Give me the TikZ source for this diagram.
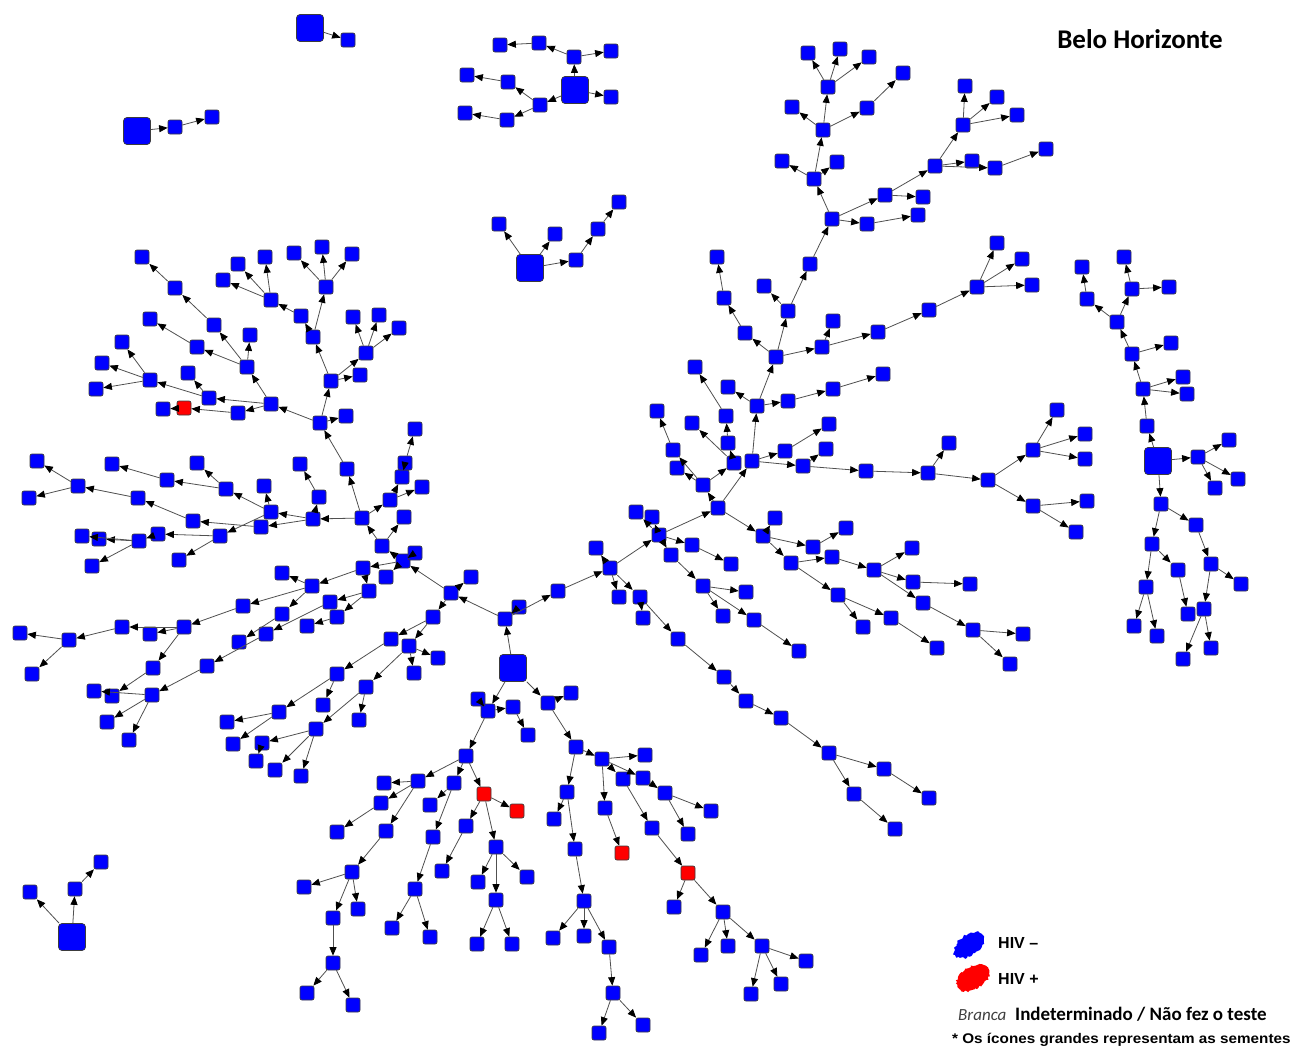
\documentclass[tikz,border=0pt]{standalone}
\usepackage{fontspec}
\usetikzlibrary{arrows.meta,decorations.pathmorphing}
\newfontfamily\calfont{Carlito}
\newfontfamily\arfont{Liberation Sans}
\definecolor{nodeblue}{RGB}{0,0,255}
\definecolor{nodered}{RGB}{255,0,0}
\definecolor{nodeedge}{RGB}{60,60,60}
\definecolor{linkgray}{RGB}{80,80,80}
\tikzset{
  sn/.style={draw=nodeedge, fill=nodeblue, rounded corners=2pt, minimum size=14pt, inner sep=0pt, line width=0.7pt},
  rn/.style={sn, fill=nodered},
  seed/.style={sn, minimum size=27pt, rounded corners=3.5pt},
  ed/.style={draw=linkgray, line width=0.8pt, -{Triangle[length=8.5pt,width=7pt,color=black]}},
}
\begin{document}
\begin{tikzpicture}[x=1pt,y=-1pt]
\useasboundingbox (0,0) rectangle (1294,1047);
\fill[white] (0,0) rectangle (1294,1047);

% ---------- small separate networks ----------
\node[seed] (c1s) at (310,28) {};
\node[sn] (c1a) at (348,40) {};
\node[seed] (c2s) at (137,131) {};
\node[sn] (c2a) at (175,127) {};
\node[sn] (c2b) at (212,117) {};
\node[seed] (c3s) at (575,90) {};
\node[sn] (c3a) at (574,57) {};
\node[sn] (c3b) at (611,97) {};
\node[sn] (c3c) at (540,105) {};
\node[sn] (c3d) at (539,43) {};
\node[sn] (c3e) at (500,45) {};
\node[sn] (c3f) at (611,51) {};
\node[sn] (c3g) at (508,82) {};
\node[sn] (c3h) at (467,75) {};
\node[sn] (c3i) at (507,120) {};
\node[sn] (c3j) at (465,113) {};
\node[seed] (c4s) at (530,268) {};
\node[sn] (c4a) at (499,224) {};
\node[sn] (c4b) at (555,234) {};
\node[sn] (c4c) at (576,260) {};
\node[sn] (c4d) at (598,229) {};
\node[sn] (c4e) at (619,202) {};
\node[seed] (c5s) at (72,937) {};
\node[sn] (c5a) at (30,892) {};
\node[sn] (c5b) at (75,889) {};
\node[sn] (c5c) at (101,862) {};

% ---------- right network ----------
\node[seed] (r0) at (1158,461) {};
\node[sn] (r1) at (1147,426) {};
\node[sn] (r2) at (1143,389) {};
\node[sn] (r3) at (1183,377) {};
\node[sn] (r4) at (1187,394) {};
\node[sn] (r5) at (1132,354) {};
\node[sn] (r6) at (1171,343) {};
\node[sn] (r7) at (1117,322) {};
\node[sn] (r8) at (1087,299) {};
\node[sn] (r9) at (1082,267) {};
\node[sn] (r10) at (1132,289) {};
\node[sn] (r11) at (1124,257) {};
\node[sn] (r12) at (1169,287) {};
\node[sn] (r13) at (1198,457) {};
\node[sn] (r14) at (1229,440) {};
\node[sn] (r15) at (1238,479) {};
\node[sn] (r16) at (1215,488) {};
\node[sn] (r17) at (1161,504) {};
\node[sn] (r18) at (1152,544) {};
\node[sn] (r19) at (1196,525) {};
\node[sn] (r20) at (1146,587) {};
\node[sn] (r21) at (1178,570) {};
\node[sn] (r22) at (1134,626) {};
\node[sn] (r23) at (1157,636) {};
\node[sn] (r24) at (1188,614) {};
\node[sn] (r25) at (1211,564) {};
\node[sn] (r26) at (1241,584) {};
\node[sn] (r27) at (1204,609) {};
\node[sn] (r28) at (1183,659) {};
\node[sn] (r29) at (1211,648) {};

% ---------- main network: trunk and right branches ----------
\node[sn] (m1) at (505,619) {};
\node[sn] (m2) at (519,607) {};
\node[sn] (m3) at (558,591) {};
\node[sn] (m4) at (610,568) {};
\node[sn] (m5) at (596,548) {};
\node[sn] (m6) at (619,597) {};
\node[sn] (m7) at (640,597) {};
\node[sn] (m8) at (643,618) {};
\node[sn] (m9) at (678,639) {};
\node[sn] (m10) at (724,677) {};
\node[sn] (m11) at (746,701) {};
\node[sn] (m12) at (781,718) {};
\node[sn] (m13) at (829,753) {};
\node[sn] (m14) at (884,769) {};
\node[sn] (m15) at (929,798) {};
\node[sn] (m16) at (854,794) {};
\node[sn] (m17) at (895,829) {};
\node[sn] (m18) at (659,535) {};
\node[sn] (m19) at (652,517) {};
\node[sn] (m20) at (636,512) {};
\node[sn] (m21) at (671,555) {};
\node[sn] (m22) at (692,545) {};
\node[sn] (m23) at (731,564) {};
\node[sn] (m24) at (703,586) {};
\node[sn] (m25) at (746,592) {};
\node[sn] (m26) at (723,616) {};
\node[sn] (m27) at (754,620) {};
\node[sn] (m28) at (799,651) {};
\node[sn] (m29) at (718,508) {};
\node[sn] (m30) at (763,536) {};
\node[sn] (m31) at (775,518) {};
\node[sn] (m32) at (813,547) {};
\node[sn] (m33) at (846,528) {};
\node[sn] (m34) at (791,563) {};
\node[sn] (m35) at (832,557) {};
\node[sn] (m36) at (874,570) {};
\node[sn] (m37) at (838,595) {};
\node[sn] (m38) at (863,627) {};
\node[sn] (m39) at (891,618) {};
\node[sn] (m40) at (937,648) {};
\node[sn] (m41) at (912,548) {};
\node[sn] (m42) at (913,582) {};
\node[sn] (m43) at (970,584) {};
\node[sn] (m44) at (923,603) {};
\node[sn] (m45) at (973,630) {};
\node[sn] (m46) at (1023,634) {};
\node[sn] (m47) at (1010,664) {};
\node[sn] (m48) at (703,485) {};
\node[sn] (m49) at (677,468) {};
\node[sn] (m50) at (673,450) {};
\node[sn] (m51) at (657,411) {};
\node[sn] (m52) at (734,463) {};
\node[sn] (m53) at (728,443) {};
\node[sn] (m54) at (726,416) {};
\node[sn] (m55) at (695,367) {};
\node[sn] (m56) at (692,423) {};
\node[sn] (m57) at (752,461) {};
\node[sn] (m58) at (757,406) {};
\node[sn] (m59) at (728,387) {};
\node[sn] (m60) at (788,401) {};
\node[sn] (m61) at (833,389) {};
\node[sn] (m62) at (883,374) {};
\node[sn] (m63) at (785,451) {};
\node[sn] (m64) at (829,424) {};
\node[sn] (m65) at (803,466) {};
\node[sn] (m66) at (826,449) {};
\node[sn] (m67) at (866,471) {};
\node[sn] (m68) at (928,473) {};
\node[sn] (m69) at (949,443) {};
\node[sn] (m70) at (988,480) {};
\node[sn] (m71) at (1033,450) {};
\node[sn] (m72) at (1057,410) {};
\node[sn] (m73) at (1085,434) {};
\node[sn] (m74) at (1085,459) {};
\node[sn] (m75) at (1033,506) {};
\node[sn] (m76) at (1087,501) {};
\node[sn] (m77) at (1076,532) {};
\node[sn] (m78) at (776,357) {};
\node[sn] (m79) at (822,347) {};
\node[sn] (m80) at (833,321) {};
\node[sn] (m81) at (878,332) {};
\node[sn] (m82) at (929,310) {};
\node[sn] (m83) at (977,287) {};
\node[sn] (m84) at (997,243) {};
\node[sn] (m85) at (1022,259) {};
\node[sn] (m86) at (1032,285) {};
\node[sn] (m87) at (745,333) {};
\node[sn] (m88) at (724,298) {};
\node[sn] (m89) at (717,257) {};
\node[sn] (m90) at (788,311) {};
\node[sn] (m91) at (764,286) {};
\node[sn] (m92) at (810,264) {};
\node[sn] (m93) at (832,219) {};
\node[sn] (m94) at (867,224) {};
\node[sn] (m95) at (918,215) {};
\node[sn] (m96) at (885,195) {};
\node[sn] (m97) at (923,197) {};
\node[sn] (m98) at (935,166) {};
\node[sn] (m99) at (963,125) {};
\node[sn] (m100) at (965,86) {};
\node[sn] (m101) at (997,97) {};
\node[sn] (m102) at (1017,115) {};
\node[sn] (m103) at (972,161) {};
\node[sn] (m104) at (995,168) {};
\node[sn] (m105) at (1046,149) {};
\node[sn] (m106) at (814,179) {};
\node[sn] (m107) at (782,161) {};
\node[sn] (m108) at (837,162) {};
\node[sn] (m109) at (823,130) {};
\node[sn] (m110) at (792,107) {};
\node[sn] (m111) at (867,108) {};
\node[sn] (m112) at (903,73) {};
\node[sn] (m113) at (828,87) {};
\node[sn] (m114) at (808,53) {};
\node[sn] (m115) at (840,49) {};
\node[sn] (m116) at (869,57) {};

% ---------- main network: left branches ----------
\node[sn] (L0) at (451,593) {};
\node[sn] (L1) at (471,577) {};
\node[sn] (L2) at (433,617) {};
\node[sn] (L3) at (403,561) {};
\node[sn] (L4) at (415,553) {};
\node[sn] (L5) at (382,546) {};
\node[sn] (L6) at (362,518) {};
\node[sn] (L7) at (404,517) {};
\node[sn] (L8) at (347,469) {};
\node[sn] (L9) at (320,423) {};
\node[sn] (L10) at (390,500) {};
\node[sn] (L11) at (402,477) {};
\node[sn] (L12) at (405,463) {};
\node[sn] (L13) at (415,429) {};
\node[sn] (L14) at (422,487) {};
\node[sn] (L15) at (313,519) {};
\node[sn] (L16) at (363,568) {};
\node[sn] (L17) at (386,577) {};
\node[sn] (L18) at (369,591) {};
\node[sn] (L19) at (330,602) {};
\node[sn] (L20) at (337,617) {};
\node[sn] (L21) at (312,586) {};
\node[sn] (L22) at (346,416) {};
\node[sn] (L23) at (331,381) {};
\node[sn] (L24) at (360,375) {};
\node[sn] (L25) at (366,353) {};
\node[sn] (L26) at (353,317) {};
\node[sn] (L27) at (379,315) {};
\node[sn] (L28) at (399,328) {};
\node[sn] (L29) at (313,337) {};
\node[sn] (L30) at (301,316) {};
\node[sn] (L31) at (271,300) {};
\node[sn] (L32) at (238,264) {};
\node[sn] (L33) at (265,257) {};
\node[sn] (L34) at (223,280) {};
\node[sn] (L35) at (326,287) {};
\node[sn] (L36) at (322,247) {};
\node[sn] (L37) at (294,253) {};
\node[sn] (L38) at (352,254) {};
\node[sn] (L39) at (271,404) {};
\node[sn] (L40) at (238,413) {};
\node[rn] (L41) at (184,408) {};
\node[sn] (L42) at (163,409) {};
\node[sn] (L43) at (209,398) {};
\node[sn] (L44) at (188,373) {};
\node[sn] (L45) at (150,380) {};
\node[sn] (L46) at (102,363) {};
\node[sn] (L47) at (96,389) {};
\node[sn] (L48) at (122,342) {};
\node[sn] (L49) at (247,367) {};
\node[sn] (L50) at (197,347) {};
\node[sn] (L51) at (150,319) {};
\node[sn] (L52) at (250,335) {};
\node[sn] (L53) at (214,325) {};
\node[sn] (L54) at (175,288) {};
\node[sn] (L55) at (142,257) {};
\node[sn] (L56) at (319,497) {};
\node[sn] (L57) at (300,464) {};
\node[sn] (L58) at (271,512) {};
\node[sn] (L59) at (264,486) {};
\node[sn] (L60) at (226,489) {};
\node[sn] (L61) at (197,463) {};
\node[sn] (L62) at (167,480) {};
\node[sn] (L63) at (112,464) {};
\node[sn] (L64) at (261,527) {};
\node[sn] (L65) at (193,521) {};
\node[sn] (L66) at (138,498) {};
\node[sn] (L67) at (78,486) {};
\node[sn] (L68) at (37,461) {};
\node[sn] (L69) at (29,498) {};
\node[sn] (L70) at (220,536) {};
\node[sn] (L71) at (158,534) {};
\node[sn] (L72) at (179,560) {};
\node[sn] (L73) at (139,541) {};
\node[sn] (L74) at (99,539) {};
\node[sn] (L75) at (82,536) {};
\node[sn] (L76) at (92,566) {};
\node[sn] (L77) at (282,573) {};
\node[sn] (L78) at (282,614) {};
\node[sn] (L79) at (243,606) {};
\node[sn] (L80) at (184,627) {};
\node[sn] (L81) at (150,634) {};
\node[sn] (L82) at (122,627) {};
\node[sn] (L83) at (69,640) {};
\node[sn] (L84) at (20,633) {};
\node[sn] (L85) at (32,674) {};
\node[sn] (L86) at (153,668) {};
\node[sn] (L87) at (112,696) {};
\node[sn] (L88) at (239,642) {};
\node[sn] (L89) at (266,634) {};
\node[sn] (L90) at (207,666) {};
\node[sn] (L91) at (152,695) {};
\node[sn] (L92) at (94,691) {};
\node[sn] (L93) at (107,722) {};
\node[sn] (L94) at (129,740) {};
\node[sn] (L95) at (307,626) {};
\node[sn] (L96) at (391,639) {};
\node[sn] (L97) at (409,646) {};
\node[sn] (L98) at (438,658) {};
\node[sn] (L99) at (414,673) {};
\node[sn] (L100) at (337,674) {};
\node[sn] (L101) at (366,687) {};
\node[sn] (L102) at (323,705) {};
\node[sn] (L103) at (279,712) {};
\node[sn] (L104) at (227,722) {};
\node[sn] (L105) at (233,744) {};
\node[sn] (L106) at (262,743) {};
\node[sn] (L107) at (256,761) {};
\node[sn] (L108) at (316,729) {};
\node[sn] (L109) at (275,770) {};
\node[sn] (L110) at (301,776) {};
\node[sn] (L111) at (359,720) {};

% ---------- main network: lower branches ----------
\node[sn] (B1) at (488,711) {};
\node[sn] (B2) at (478,699) {};
\node[sn] (B3) at (513,707) {};
\node[sn] (B4) at (528,735) {};
\node[sn] (B5) at (548,703) {};
\node[sn] (B6) at (571,693) {};
\node[sn] (B7) at (466,756) {};
\node[sn] (B8) at (576,747) {};
\node[sn] (B9) at (418,781) {};
\node[sn] (B10) at (454,783) {};
\node[rn] (B11) at (484,794) {};
\node[sn] (B12) at (384,783) {};
\node[sn] (B13) at (381,803) {};
\node[sn] (B14) at (337,832) {};
\node[sn] (B15) at (386,831) {};
\node[sn] (B16) at (352,872) {};
\node[sn] (B17) at (304,887) {};
\node[sn] (B18) at (333,918) {};
\node[sn] (B19) at (333,963) {};
\node[sn] (B20) at (353,1005) {};
\node[sn] (B21) at (307,993) {};
\node[sn] (B22) at (358,909) {};
\node[sn] (B23) at (430,805) {};
\node[sn] (B24) at (433,837) {};
\node[sn] (B25) at (415,889) {};
\node[sn] (B26) at (392,928) {};
\node[sn] (B27) at (430,937) {};
\node[rn] (B28) at (517,811) {};
\node[sn] (B29) at (466,826) {};
\node[sn] (B30) at (442,871) {};
\node[sn] (B31) at (496,847) {};
\node[sn] (B32) at (478,882) {};
\node[sn] (B33) at (527,877) {};
\node[sn] (B34) at (496,900) {};
\node[sn] (B35) at (477,944) {};
\node[sn] (B36) at (512,944) {};
\node[sn] (B37) at (602,759) {};
\node[sn] (B38) at (567,792) {};
\node[sn] (B39) at (645,755) {};
\node[sn] (B40) at (623,779) {};
\node[sn] (B41) at (643,778) {};
\node[sn] (B42) at (605,808) {};
\node[rn] (B43) at (622,853) {};
\node[sn] (B44) at (665,793) {};
\node[sn] (B45) at (711,811) {};
\node[sn] (B46) at (688,834) {};
\node[sn] (B47) at (652,828) {};
\node[rn] (B48) at (688,873) {};
\node[sn] (B49) at (674,907) {};
\node[sn] (B50) at (723,912) {};
\node[sn] (B51) at (701,955) {};
\node[sn] (B52) at (728,946) {};
\node[sn] (B53) at (762,946) {};
\node[sn] (B54) at (806,961) {};
\node[sn] (B55) at (751,994) {};
\node[sn] (B56) at (781,984) {};
\node[sn] (B57) at (554,819) {};
\node[sn] (B58) at (575,849) {};
\node[sn] (B59) at (584,901) {};
\node[sn] (B60) at (553,938) {};
\node[sn] (B61) at (584,936) {};
\node[sn] (B62) at (609,947) {};
\node[sn] (B63) at (613,993) {};
\node[sn] (B64) at (599,1033) {};
\node[sn] (B65) at (643,1025) {};

% seed of the main network
\node[seed] (m0) at (513,668) {};

% ---------- links (parent -- child) ----------
\foreach \a/\b in {c1s/c1a, c2s/c2a, c2a/c2b,
  c3s/c3a, c3s/c3b, c3s/c3c, c3a/c3d, c3d/c3e, c3a/c3f, c3c/c3g, c3g/c3h, c3c/c3i, c3i/c3j,
  c4s/c4a, c4s/c4b, c4s/c4c, c4c/c4d, c4d/c4e,
  c5s/c5a, c5s/c5b, c5b/c5c,
  r0/r1, r1/r2, r2/r3, r2/r4, r2/r5, r5/r6, r5/r7, r7/r8, r8/r9, r7/r10, r10/r11, r10/r12,
  r0/r13, r13/r14, r13/r15, r13/r16,
  r0/r17, r17/r18, r17/r19, r18/r20, r18/r21, r20/r22, r20/r23, r21/r24, r19/r25, r25/r26, r25/r27, r27/r28, r27/r29}
  \draw[ed] (\a) -- (\b);
\foreach \a/\b in {m0/m1, m1/m2, m1/m3, m3/m4, m4/m5, m4/m6, m4/m7, m7/m8, m7/m9, m9/m10, m10/m11, m11/m12,
  m12/m13, m13/m14, m14/m15, m13/m16, m16/m17,
  m4/m18, m18/m19, m18/m20, m18/m21, m18/m22, m22/m23, m21/m24, m24/m25, m24/m26, m24/m27, m27/m28,
  m18/m29, m29/m30, m30/m31, m30/m32, m32/m33, m30/m34, m34/m35, m35/m36, m34/m37, m37/m38, m37/m39,
  m39/m40, m36/m41, m36/m42, m42/m43, m36/m44, m44/m45, m45/m46, m45/m47,
  m29/m48, m48/m49, m48/m50, m50/m51, m48/m52, m52/m53, m53/m54, m54/m55, m52/m56, m29/m57, m57/m58,
  m58/m59, m58/m60, m60/m61, m61/m62, m57/m63, m63/m64, m57/m65, m65/m66, m65/m67, m67/m68, m68/m69,
  m68/m70, m70/m71, m71/m72, m71/m73, m71/m74, m70/m75, m75/m76, m75/m77,
  m58/m78, m78/m79, m79/m80, m79/m81, m81/m82, m82/m83, m83/m84, m83/m85, m83/m86, m78/m87, m87/m88,
  m88/m89, m78/m90, m90/m91, m90/m92, m92/m93,
  m93/m94, m94/m95, m93/m96, m96/m97, m96/m98, m98/m99, m99/m100, m99/m101, m99/m102, m98/m103,
  m98/m104, m104/m105,
  m93/m106, m106/m107, m106/m108, m106/m109, m109/m110, m109/m111, m111/m112, m109/m113, m113/m114,
  m113/m115, m113/m116}
  \draw[ed] (\a) -- (\b);
\foreach \a/\b in {m1/L0, L0/L1, L0/L2, L0/L3, L3/L4, L3/L5, L5/L6, L5/L7, L6/L8, L8/L9, L6/L10, L10/L11,
  L11/L12, L12/L13, L10/L14, L6/L15, L3/L16, L3/L17, L16/L18, L18/L19, L18/L20, L16/L21,
  L9/L22, L9/L23, L23/L24, L23/L25, L25/L26, L25/L27, L25/L28, L23/L29, L29/L30, L30/L31, L31/L32,
  L31/L33, L31/L34, L29/L35, L35/L36, L35/L37, L35/L38,
  L9/L39, L39/L40, L40/L41, L41/L42, L39/L43, L43/L44, L43/L45, L45/L46, L45/L47, L45/L48, L39/L49,
  L49/L50, L50/L51, L49/L52, L49/L53, L53/L54, L54/L55,
  L15/L56, L56/L57, L15/L58, L58/L59, L58/L60, L60/L61, L60/L62, L62/L63, L15/L64, L64/L65, L65/L66,
  L66/L67, L67/L68, L67/L69, L58/L70, L70/L71, L70/L72, L71/L73, L73/L74, L73/L75, L73/L76,
  L21/L77, L21/L78, L21/L79, L79/L80, L80/L81, L80/L82, L82/L83, L83/L84, L83/L85, L80/L86, L86/L87,
  L78/L88, L19/L89, L89/L90, L90/L91, L91/L92, L91/L93, L91/L94, L20/L95,
  L2/L96, L2/L97, L97/L98, L97/L99, L96/L100, L97/L101, L100/L102, L100/L103, L103/L104, L103/L105,
  L108/L106, L106/L107, L101/L108, L108/L109, L108/L110, L101/L111}
  \draw[ed] (\a) -- (\b);
\foreach \a/\b in {m0/B1, B1/B2, B1/B3, B3/B4, m0/B5, B5/B6, B1/B7, B5/B8,
  B7/B9, B7/B10, B7/B11, B9/B12, B9/B13, B13/B14, B9/B15, B15/B16, B16/B17, B16/B18, B18/B19, B19/B20,
  B19/B21, B16/B22, B10/B23, B10/B24, B24/B25, B25/B26, B25/B27, B11/B28, B11/B29, B29/B30, B11/B31,
  B31/B32, B31/B33, B31/B34, B34/B35, B34/B36,
  B8/B37, B8/B38, B37/B39, B37/B40, B37/B41, B37/B42, B42/B43, B41/B44, B44/B45, B44/B46, B40/B47,
  B47/B48, B48/B49, B48/B50, B50/B51, B50/B52, B50/B53, B53/B54, B53/B55, B53/B56, B38/B57, B38/B58,
  B58/B59, B59/B60, B59/B61, B59/B62, B62/B63, B63/B64, B63/B65}
  \draw[ed] (\a) -- (\b);

% ---------- title ----------
\node[font=\calfont\bfseries\fontsize{27}{30}\selectfont, inner sep=0pt] (title) at (1140,39) {Belo Horizonte};

% ---------- legend ----------
\fill[nodeblue, decorate, decoration={random steps, segment length=2pt, amplitude=1.2pt}]
  [rotate around={35:(969,945)}] (969,945) ellipse (17pt and 10pt);
\fill[nodered, decorate, decoration={random steps, segment length=2pt, amplitude=1.2pt}]
  [rotate around={30:(973,978)}] (973,978) ellipse (18pt and 11pt);
\node[font=\arfont\bfseries\fontsize{16}{18}\selectfont, anchor=base west, inner sep=0pt] (lneg) at (998,948) {HIV –};
\node[font=\arfont\bfseries\fontsize{16}{18}\selectfont, anchor=base west, inner sep=0pt] (lpos) at (998,984) {HIV +};
\node[font=\calfont\itshape\fontsize{17}{18}\selectfont, text=black!75, anchor=base west, inner sep=0pt] (lwhite) at (958,1020) {Branca};
\node[font=\calfont\bfseries\fontsize{19}{21}\selectfont, anchor=base west, inner sep=0pt] (lind) at (1015,1020) {Indeterminado / Não fez o teste};
\node[font=\arfont\bfseries\fontsize{14}{15}\selectfont, anchor=base west, inner sep=0pt] (lnote) at (952,1043) {\scalebox{1.09}[1]{* Os ícones grandes representam as sementes}};
\end{tikzpicture}
\end{document}
